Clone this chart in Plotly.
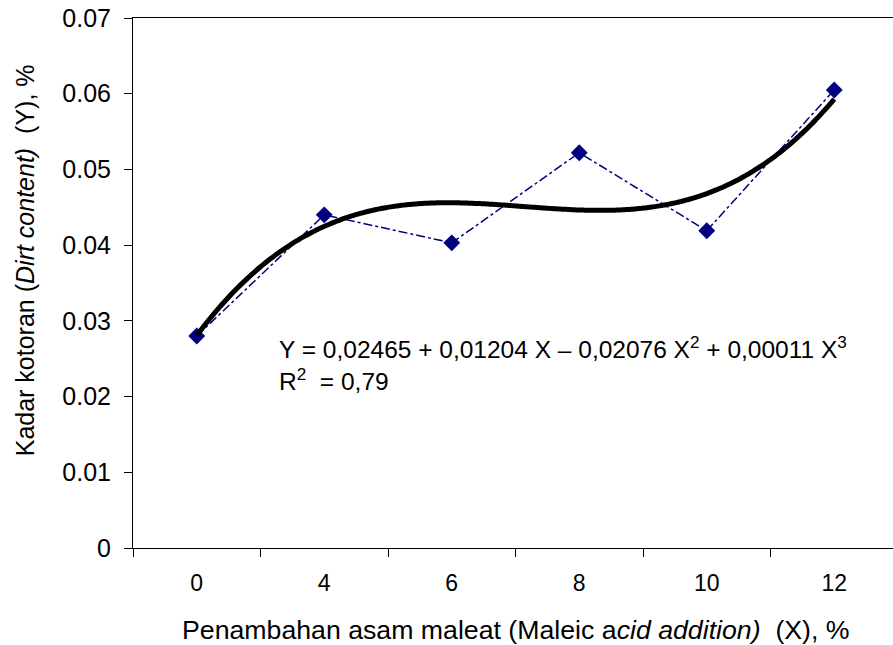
import numpy as np
import plotly.graph_objects as go

categories = ["0", "4", "6", "8", "10", "12"]
dirt_content = [0.0280, 0.0440, 0.0403, 0.0522, 0.0419, 0.0605]
y_ticks = [0, 0.01, 0.02, 0.03, 0.04, 0.05, 0.06, 0.07]
y_ticktext = ["0", "0.01", "0.02", "0.03", "0.04", "0.05", "0.06", "0.07"]

# Excel-style 3rd-order polynomial trendline fitted on category positions 1..6
pos = np.arange(1, len(categories) + 1)
coef = np.polyfit(pos, dirt_content, 3)
xs = np.linspace(1, len(categories), 200)
trend = np.polyval(coef, xs)

idx = list(range(len(categories)))
FONT = "Liberation Sans, Arial"

fig = go.Figure()
fig.add_trace(go.Scatter(
    x=idx, y=dirt_content, mode="lines+markers",
    line=dict(color="#000080", width=1.5, dash="dashdot"),
    marker=dict(symbol="diamond", size=13, color="#000080"),
    showlegend=False, hoverinfo="skip"))
fig.add_trace(go.Scatter(
    x=xs - 1, y=trend, mode="lines",
    line=dict(color="black", width=5, shape="spline"),
    showlegend=False, hoverinfo="skip"))

fig.add_annotation(
    x=0.63, y=0.0288, xref="x", yref="y", xanchor="left", yanchor="top",
    align="left", showarrow=False,
    text="Y = 0,02465 + 0,01204 X – 0,02076 X<sup>2</sup> + 0,00011 X<sup>3</sup><br>R<sup>2</sup>  = 0,79",
    font=dict(family=FONT, size=24.5, color="black"))

fig.add_annotation(
    x=-0.142, y=0.543, xref="paper", yref="paper", textangle=-90,
    xanchor="center", yanchor="middle", showarrow=False,
    text="Kadar kotoran (<i>Dirt content)</i>  (Y), %",
    font=dict(family=FONT, size=25, color="black"))

fig.add_annotation(
    x=0.504, y=-0.154, xref="paper", yref="paper",
    xanchor="center", yanchor="middle", showarrow=False,
    text="Penambahan asam maleat (Maleic a<i>cid addition)</i>  (X), %",
    font=dict(family=FONT, size=26.7, color="black"))

fig.update_layout(
    width=893, height=645, autosize=False,
    margin=dict(l=133, r=0, t=18, b=97),
    plot_bgcolor="white", paper_bgcolor="white",
    font=dict(family=FONT, color="black"),
    xaxis=dict(
        range=[-0.5, -0.5 + 760 / 127.5],
        tickvals=idx, ticktext=categories, ticks="",
        tickfont=dict(size=23), showgrid=False, zeroline=False,
        showline=True, linecolor="black", linewidth=1, mirror=True,
        ticklabelstandoff=14, ticklabeloverflow="allow",
        minor=dict(tick0=-0.5, dtick=1, ticks="outside", ticklen=8,
                   tickcolor="black", tickwidth=1, showgrid=False),
    ),
    yaxis=dict(
        range=[0, 0.07], tickvals=y_ticks, ticktext=y_ticktext,
        ticks="outside", ticklen=8, tickcolor="black", tickwidth=1,
        tickfont=dict(size=25), showgrid=False, zeroline=False,
        showline=True, linecolor="black", linewidth=1,
        ticklabelstandoff=8, ticklabeloverflow="allow",
    ),
)

fig.write_html(
    "out.html",
    config={"displayModeBar": False},
    post_script="document.body.style.margin='0';document.body.style.overflow='hidden';",
)
